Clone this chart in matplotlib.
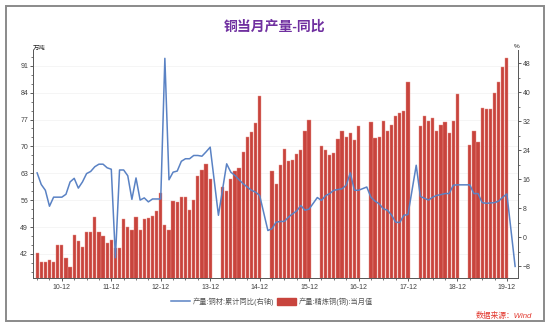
import matplotlib.pyplot as plt
import numpy as np
import pandas as pd
from matplotlib.ticker import FixedLocator, MultipleLocator
from matplotlib.patches import Rectangle, Patch
from matplotlib.lines import Line2D

plt.rcParams['font.family'] = ['Liberation Sans', 'Noto Sans CJK SC', 'DejaVu Sans']

months = pd.period_range('2010-06', '2020-02', freq='M')

# 产量:精炼铜(铜):当月值, 万吨 (1-2月无数据为 None)
refined = [
    42.2, 39.8, 39.8, 40.4, 40.0, 44.3, 44.3,                           # 2010.06-12
    40.9, 38.5, 46.9, 45.4, 43.9, 47.7, 47.7, 51.7, 47.8, 46.8, 44.8, 45.6,
    43.5, 43.6, 51.0, 49.1, 48.3, 51.7, 48.2, 51.0, 51.3, 52.0, 53.2, 57.9,
    49.5, 48.2, 55.9, 55.6, 56.9, 56.9, 53.4, 56.0, 62.2, 63.8, 65.3, 61.6,
    None, None, 59.5, 58.4, 61.6, 63.6, 64.5, 68.6, 72.4, 73.8, 76.0, 83.2,
    None, None, 63.6, 60.3, 65.1, 69.4, 66.2, 66.4, 67.9, 69.1, 74.0, 77.0,
    None, None, 70.1, 69.1, 67.7, 68.3, 72.0, 74.1, 72.4, 73.4, 71.8, 75.4,
    None, None, 76.3, 72.3, 72.5, 76.7, 73.9, 75.5, 78.0, 78.8, 79.3, 86.9,
    None, None, 75.2, 77.8, 76.7, 77.4, 73.9, 75.6, 76.3, 73.4, 76.7, 83.7,
    None, None, 70.5, 74.0, 71.1, 80.1, 79.8, 79.7, 83.8, 86.7, 90.8, 93.0,
    None, None,                                                         # 2020.01-02
]

# 产量:铜材:累计同比, %
products_yoy = [
    17.8, 14.6, 13.0, 8.6, 11.1, 11.1, 11.1,
    11.9, 15.3, 16.3, 13.6, 15.3, 17.6, 18.2, 19.5, 20.2, 20.2, 19.2, 18.8,
    -5.6, 18.6, 18.6, 17.0, 10.5, 16.4, 10.3, 10.9, 9.8, 10.6, 10.6, 10.6,
    49.4, 15.9, 18.0, 18.3, 21.0, 21.7, 21.7, 22.6, 22.6, 22.4, 23.6, 24.9,
    None, 6.1, 13.2, 20.3, 18.0, 17.1, 15.9, 14.8, 13.9, 13.0, 12.5, 11.6,
    None, 1.9, 2.4, 4.2, 4.4, 4.4, 5.6, 6.5, 7.3, 8.8, 7.5, 7.8,
    None, 11.0, 10.2, 11.5, 12.1, 13.0, 13.2, 13.4, 14.4, 17.8, 13.0, 13.0,
    None, 13.9, 11.1, 10.0, 9.3, 7.9, 7.5, 6.2, 4.2, 4.1, 6.1, 6.3,
    None, 19.9, 11.3, 10.8, 10.3, 11.1, 11.6, 11.8, 12.1, 12.1, 14.4, 14.5,
    None, 14.5, 14.5, 12.1, 12.1, 9.6, 9.4, 9.5, 9.6, 10.0, 11.1, 12.0,
    None, -8.0,
]

left_ticks = [42, 49, 56, 63, 70, 77, 84, 91]
right_ticks = [-8, 0, 8, 16, 24, 32, 40, 48]

txt = '#404040'
fig = plt.figure(figsize=(5.5, 3.3), dpi=100)
ax = fig.add_axes([33/550, 1-278/330, 485/550, 228/330])
ax2 = ax.twinx()

x = np.arange(len(months))
bx = [i for i, v in zip(x, refined) if v is not None]
bv = [v for v in refined if v is not None]
ax.bar(bx, bv, width=0.78, color='#C8443D', edgecolor='#E8938B', linewidth=0.3, zorder=2)

lx = [i for i, v in zip(x, products_yoy) if v is not None]
lv = [v for v in products_yoy if v is not None]
ax2.plot(lx, lv, color='#5A82C4', lw=1.1, zorder=3)

ax.set_xlim(-1.0, 116.7)
ax.set_ylim(35.75, 95.1)
ax2.set_ylim(-11.2, 51.7)

# x ticks: 每季度一个刻度, 12 月标注
dec = [i for i, m in enumerate(months) if m.month == 12]
qtr = [i for i, m in enumerate(months) if m.month in (3, 6, 9)]
ax.xaxis.set_major_locator(FixedLocator(dec))
ax.xaxis.set_minor_locator(FixedLocator(qtr))
ax.set_xticklabels([m.strftime('%y-%m') for m in months[dec]])

ax.yaxis.set_major_locator(FixedLocator(left_ticks))
ax.yaxis.set_minor_locator(MultipleLocator(7/3))
ax2.yaxis.set_major_locator(FixedLocator(right_ticks))
ax2.yaxis.set_minor_locator(MultipleLocator(4))

for a in (ax, ax2):
    a.tick_params(which='major', direction='out', length=2.5, width=0.6,
                  color=txt, labelsize=5, labelcolor=txt, pad=1)
    a.tick_params(which='minor', direction='out', length=1.5, width=0.5, color=txt)
    for s in a.spines.values():
        s.set_color('#5a5a5a')
        s.set_linewidth(0.7)
    a.spines['top'].set_visible(False)
ax.tick_params(axis='x', which='major', pad=2)

ax.grid(axis='y', color='#F2F2F2', lw=0.5, zorder=0)
ax.set_axisbelow(True)

fig.text(0.5, 1-27/330, '铜当月产量-同比', ha='center', va='center',
         fontsize=10, fontweight='bold', color='#7030A0')
fig.text(33/550, 1-48/330, '万吨', ha='left', va='center', fontsize=4.6, color='#222222')
fig.text(514/550, 1-47/330, '%', ha='left', va='center', fontsize=4.6, color='#222222')

handles = [Line2D([], [], color='#5A82C4', lw=1.1),
           Patch(facecolor='#C8443D', edgecolor='#C8443D')]
fig.legend(handles, ['产量:铜材:累计同比(右轴)', '产量:精炼铜(铜):当月值'],
           loc='center', bbox_to_anchor=(272/550, 1-302/330), ncol=2, frameon=False,
           fontsize=5.2, labelcolor='#555555', handlelength=2.6, handleheight=1.1,
           handletextpad=0.4, columnspacing=0.4)

fig.text(532/550, 1-316/330, '数据来源：Wind', ha='right', va='center',
         fontsize=5.6, color='#E2382E', style='italic')

fig.add_artist(Rectangle((6/550, 1-321/330), 538/550, 315/330, transform=fig.transFigure,
                         fill=False, edgecolor='#8a8a8a', lw=1.4))

fig.savefig('out.png', dpi=100)
